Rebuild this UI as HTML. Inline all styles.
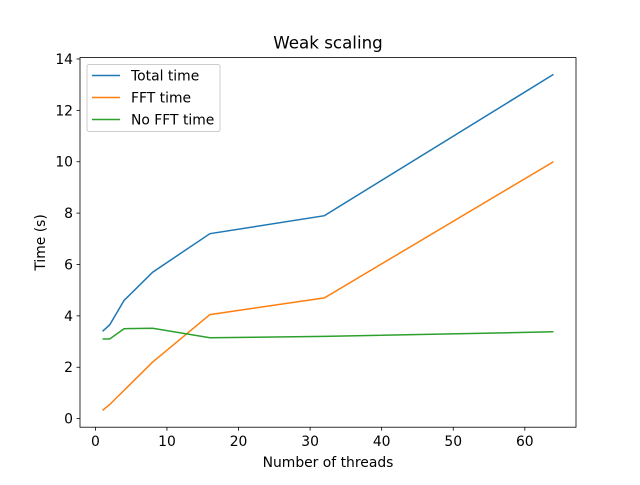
<!DOCTYPE html>
<html><head><meta charset="utf-8"><style>
body{margin:0;background:#fff}
svg text{font-family:"DejaVu Sans","Liberation Sans",sans-serif;fill:#000}
</style></head><body>
<svg id="c" width="640" height="480"></svg>
<script>
const threads=[1,2,4,8,16,32,64];
const totalTime=[3.4,3.65,4.6,5.7,7.2,7.9,13.4];
const fftTime=[0.32,0.55,1.1,2.2,4.05,4.7,10.0];
const noFftTime=[3.1,3.1,3.5,3.52,3.15,3.2,3.38];
const xTicks=[0,10,20,30,40,50,60];
const yTicks=[0,2,4,6,8,10,12,14];
const seriesNames=["Total time","FFT time","No FFT time"];
const NS="http://www.w3.org/2000/svg";
const svg=document.getElementById('c');
const L=80,R=576,T=57.6,B=427.2;
const all=totalTime.concat(fftTime,noFftTime);
const xmin=Math.min(...threads),xmax=Math.max(...threads);
const ymin=Math.min(...all),ymax=Math.max(...all);
const xp=(xmax-xmin)*0.05,yp=(ymax-ymin)*0.05;
const x0=xmin-xp,x1=xmax+xp,y0=ymin-yp,y1=ymax+yp;
const sx=v=>L+(v-x0)/(x1-x0)*(R-L);
const sy=v=>B-(v-y0)/(y1-y0)*(B-T);
const FS=13.9;
function el(t,a,txt){const e=document.createElementNS(NS,t);for(const k in a)e.setAttribute(k,a[k]);if(txt!=null)e.textContent=txt;svg.appendChild(e);return e;}
xTicks.forEach(v=>{const x=sx(v);
const l=el('line',{x1:x,x2:x,y1:B,y2:B+3.5,stroke:'#000','stroke-width':0.8});

const t=el('text',{x:x,y:B+19,'text-anchor':'middle','font-size':FS},v);
});
yTicks.forEach(v=>{const y=sy(v);
const l=el('line',{x1:L-3.5,x2:L,y1:y,y2:y,stroke:'#000','stroke-width':0.8});

const t=el('text',{x:L-7,y:y+5,'text-anchor':'end','font-size':FS},v);
});
const colors=['#1f77b4','#ff7f0e','#2ca02c'];
[totalTime,fftTime,noFftTime].forEach((s,i)=>{
const p=el('polyline',{points:s.map((v,j)=>sx(threads[j])+','+sy(v)).join(' '),fill:'none',stroke:colors[i],'stroke-width':1.5});
});
const fr=el('rect',{x:L,y:T,width:R-L,height:B-T,fill:'none',stroke:'#000','stroke-width':0.8});

const ti=el('text',{x:(L+R)/2,y:T-9,'text-anchor':'middle','font-size':16.7},'Weak scaling');

const xl=el('text',{x:(L+R)/2,y:467,'text-anchor':'middle','font-size':FS},'Number of threads');

const yl=el('text',{x:0,y:0,'text-anchor':'middle','font-size':FS,transform:`translate(45,${(T+B)/2}) rotate(-90)`},'Time (s)');

const lg=el('rect',{x:87,y:64.5,width:133,height:67,fill:'#fff','fill-opacity':0.8,stroke:'#ccc','stroke-width':1,rx:2});

seriesNames.forEach((n,i)=>{const y=75.5+i*22;
const l=el('line',{x1:92,x2:120,y1:y,y2:y,stroke:colors[i],'stroke-width':1.5});

const t=el('text',{x:131,y:y+5,'font-size':FS},n);
});
</script>
</body></html>
